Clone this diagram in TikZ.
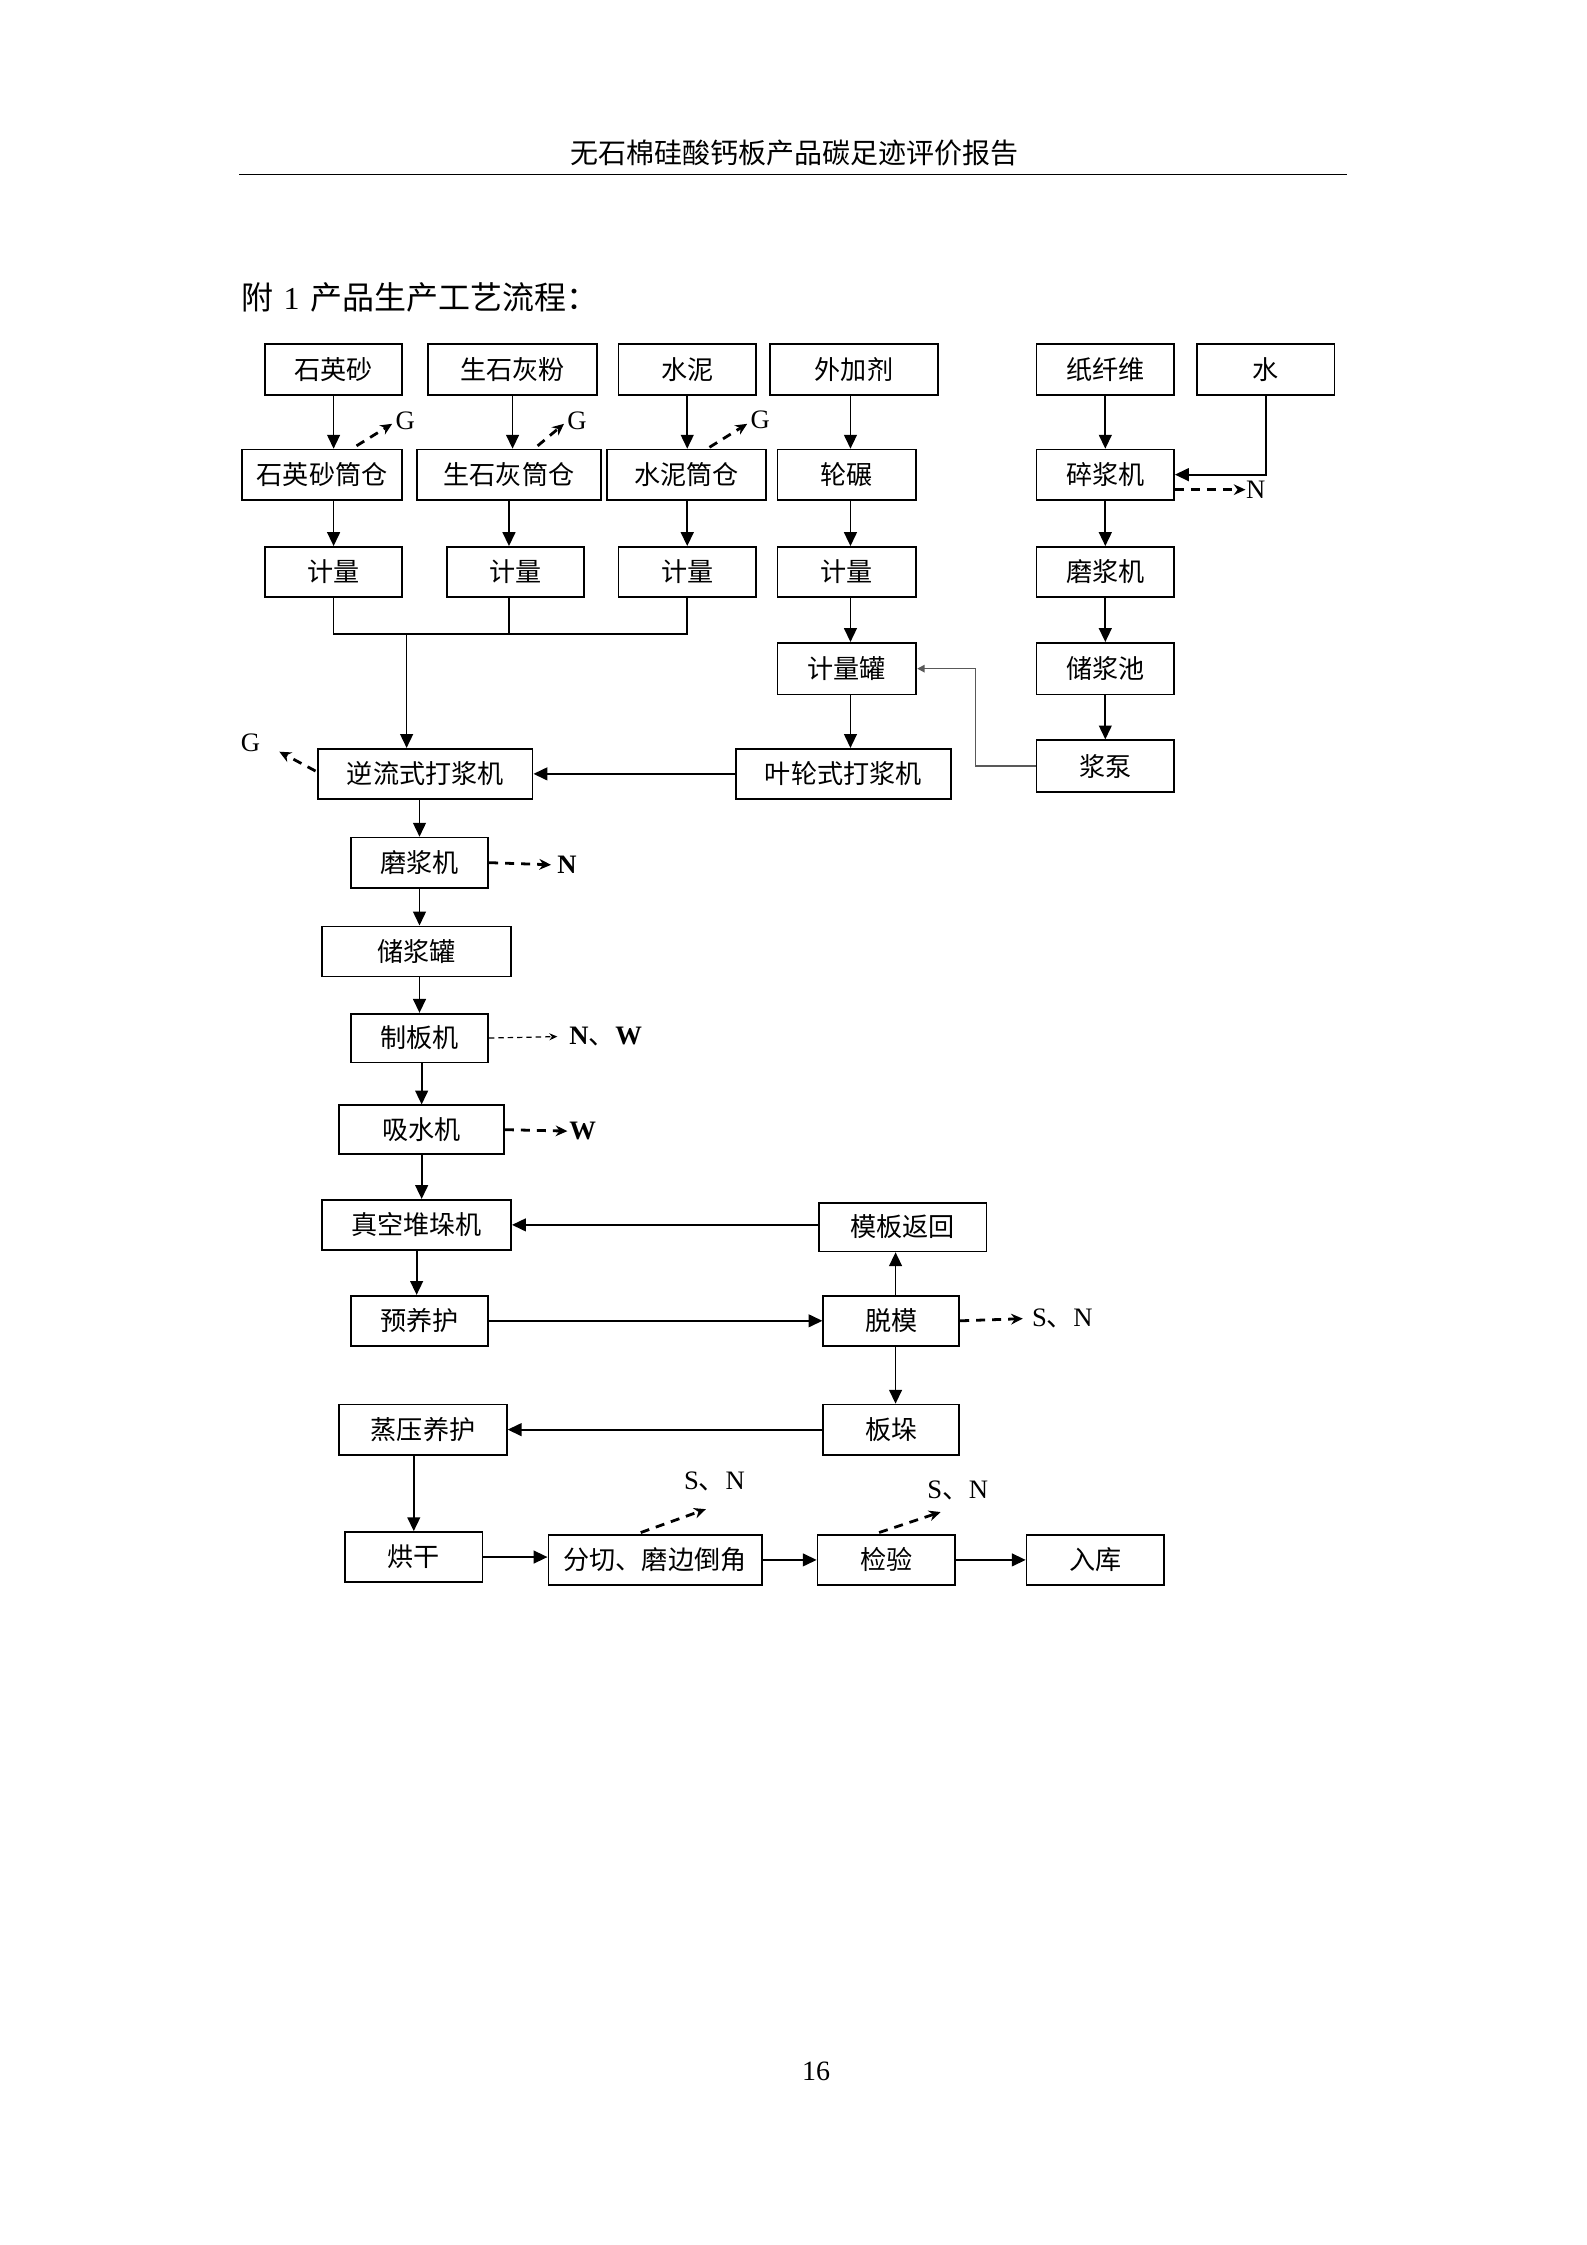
\documentclass[tikz,border=0pt]{standalone}
\usepackage{fontspec}
\setmainfont{Liberation Serif}
\newfontfamily\cjk{Noto Sans CJK SC}
\usetikzlibrary{arrows.meta,calc}
\newcommand\mkbox[6]{\node[box, minimum width={(#4-#2)*0.53725pt}, minimum height={(#5-#3)*0.53725pt}] (#1) at ({(#2+#4)/2},{(#3+#5)/2}) {#6};}
\begin{document}
\begin{tikzpicture}[x=0.53725pt, y=-0.53725pt,
  box/.style={draw, line width=0.65pt, inner sep=0pt, font=\cjk\fontsize{9.8}{11}\selectfont},
  arr/.style={line width=0.65pt, -{Triangle[length=5.2pt,width=4.8pt]}},
  conn/.style={line width=0.65pt},
  thinarr/.style={line width=0.6pt, draw=black!65, -{Triangle[length=2.8pt,width=2.8pt]}},
  dsh/.style={line width=1.05pt, dash pattern=on 3.4pt off 2.6pt, -{Stealth[length=4.4pt,width=4pt]}},
  dthin/.style={line width=0.45pt, dash pattern=on 2pt off 1.5pt, -{Stealth[length=3pt,width=2.6pt]}},
  lbl/.style={inner sep=0pt, font=\fontsize{10}{12}\selectfont},
  lblb/.style={inner sep=0pt, font=\fontsize{10}{12}\selectfont\bfseries},
]
\useasboundingbox (0,0) rectangle (1108,1568);

% header
\node[inner sep=0pt, font=\cjk\fontsize{10.5}{12}\selectfont] (hdr) at (555,107) {无石棉硅酸钙板产品碳足迹评价报告};
\coordinate (ruleL) at (167,122);
\coordinate (ruleR) at (941,122);
\draw[line width=0.5pt] (ruleL) -- (ruleR);
\node[anchor=west, inner sep=0pt, font=\cjk\fontsize{12}{14}\selectfont] (ttl) at (168,208) {附\hspace{4pt}{\rmfamily 1}\hspace{4pt}产品生产工艺流程：};
\node[inner sep=0pt, font=\fontsize{10.5}{12}\selectfont] (pg) at (570,1447) {16};

% boxes
\mkbox{sy}{185}{240}{281}{276}{石英砂}
\mkbox{shf}{299}{240}{417}{276}{生石灰粉}
\mkbox{sn}{432}{240}{528}{276}{水泥}
\mkbox{wjj}{538}{240}{655}{276}{外加剂}
\mkbox{zxw}{724}{240}{820}{276}{纸纤维}
\mkbox{water}{836}{240}{932}{276}{水}
\mkbox{syc}{169}{314}{281}{349}{石英砂筒仓}
\mkbox{shc}{291}{314}{420}{349}{生石灰筒仓}
\mkbox{snc}{424}{314}{535}{349}{水泥筒仓}
\mkbox{lunnian}{543}{314}{640}{349}{轮碾}
\mkbox{sjj}{724}{314}{820}{349}{碎浆机}
\mkbox{jla}{185}{382}{281}{417}{计量}
\mkbox{jlb}{312}{382}{408}{417}{计量}
\mkbox{jlc}{432}{382}{528}{417}{计量}
\mkbox{jld}{543}{382}{640}{417}{计量}
\mkbox{mjr}{724}{382}{820}{417}{磨浆机}
\mkbox{jlg}{543}{449}{640}{485}{计量罐}
\mkbox{cjc}{724}{449}{820}{485}{储浆池}
\mkbox{nl}{222}{523}{372}{558}{逆流式打浆机}
\mkbox{yl}{514}{523}{664}{558}{叶轮式打浆机}
\mkbox{jb}{724}{517}{820}{553}{浆泵}
\mkbox{mjl}{245}{585}{341}{620}{磨浆机}
\mkbox{cjg}{225}{647}{357}{682}{储浆罐}
\mkbox{zbj}{245}{708}{341}{742}{制板机}
\mkbox{xsj}{237}{772}{352}{806}{吸水机}
\mkbox{zk}{225}{838}{357}{873}{真空堆垛机}
\mkbox{mb}{572}{840}{689}{874}{模板返回}
\mkbox{yyh}{245}{905}{341}{940}{预养护}
\mkbox{tm}{575}{905}{670}{940}{脱模}
\mkbox{zy}{237}{981}{354}{1016}{蒸压养护}
\mkbox{bd}{575}{981}{670}{1016}{板垛}
\mkbox{hg}{241}{1070}{337}{1105}{烘干}
\mkbox{fq}{383}{1072}{532}{1107}{分切、磨边倒角}
\mkbox{jy}{571}{1072}{667}{1107}{检验}
\mkbox{rk}{717}{1072}{813}{1107}{入库}

% labels
\node[lbl] (g1) at (283,294) {G};
\node[lbl] (g2) at (403,294) {G};
\node[lbl] (g3) at (531,293) {G};
\node[lbl] (g4) at (175,519) {G};
\node[lbl] (n1) at (877,342) {N};
\node[lblb] (n2) at (396,604) {N};
\node[lblb] (nw) at (423,724) {N{\cjk\mdseries 、}W};
\node[lblb] (w1) at (407,790) {W};
\node[lbl] (sn1) at (742,921) {S{\cjk 、}N};
\node[lbl] (sn2) at (499,1035) {S{\cjk 、}N};
\node[lbl] (sn3) at (669,1041) {S{\cjk 、}N};

% left material chain
\draw[arr] (sy.south) -- (sy.south |- syc.north);
\draw[arr] (shf.south) -- (shf.south |- shc.north);
\draw[arr] (sn.south) -- (sn.south |- snc.north);
\coordinate (c4) at (594,0);
\draw[arr] (wjj.south -| c4) -- (lunnian.north -| c4);
\draw[arr] (zxw.south) -- (sjj.north);
\draw[arr] (jla.north |- syc.south) -- (jla.north);
\draw[arr] (shc.south) -- (shc.south |- jlb.north);
\draw[arr] (jlc.north |- snc.south) -- (jlc.north);
\draw[arr] (lunnian.south -| c4) -- (jld.north -| c4);
\draw[arr] (sjj.south) -- (mjr.north);
\coordinate (m) at (284,443);
\draw[conn] (jla.south) -- (jla.south |- m) -- (jlc.south |- m) -- (jlc.south);
\draw[conn] (shc.south |- jlb.south) -- (shc.south |- m);
\draw[arr] (m) -- (m |- nl.north);
\draw[arr] (jld.south -| c4) -- (jlg.north -| c4);
\draw[arr] (jlg.south -| c4) -- (yl.north -| c4);
\draw[arr] (mjr.south) -- (cjc.north);
\draw[arr] (cjc.south) -- (jb.north);
\draw[arr] (water.south) |- (sjj.east);
\draw[thinarr] (jb.west) -- ++(-42,0) |- (jlg.east);
\draw[arr] (yl.west) -- (nl.east);

% G emissions
\draw[dsh] ($(syc.north)+(24,-2)$) -- ($(g1.west)+(-2,2)$);
\draw[dsh] ($(shc.north)+(20,-2)$) -- ($(g2.west)+(-2,2)$);
\draw[dsh] ($(snc.north)+(16,-1)$) -- ($(g3.west)+(-2,3)$);
\draw[dsh] ($(nl.west)+(-1,-2)$) -- ($(g4.east)+(13,6)$);
\draw[dsh] (sjj.east |- n1) -- (n1.west);

% main line
\draw[arr] (mjl.north |- nl.south) -- (mjl.north);
\draw[dsh] (mjl.east) -- ($(n2.west)+(-4,0)$);
\draw[arr] (mjl.south) -- (mjl.south |- cjg.north);
\draw[arr] (zbj.north |- cjg.south) -- (zbj.north);
\draw[dthin] (zbj.east) -- ($(nw.west)+(-8,0)$);
\draw[arr] (xsj.north |- zbj.south) -- (xsj.north);
\draw[dsh] (xsj.east) -- ($(w1.west)+(-1,0)$);
\draw[arr] (xsj.south) -- (xsj.south |- zk.north);
\draw[arr] (zk.east -| mb.west) -- (zk.east);
\draw[arr] (zk.south) -- (zk.south |- yyh.north);
\draw[arr] (yyh.east) -- (tm.west);
\draw[arr] ($(tm.north)+(3,0)$) -- ($(tm.north |- mb.south)+(3,0)$);
\draw[dsh] (tm.east) -- ($(sn1.west)+(-6,0)$);
\draw[arr] ($(tm.south)+(3,0)$) -- ($(bd.north)+(3,0)$);
\draw[arr] (bd.west) -- (zy.east);
\draw[arr] (hg.north |- zy.south) -- (hg.north);
\draw[arr] (hg.east) -- (hg.east -| fq.west);
\draw[arr] (fq.east) -- (jy.west);
\draw[arr] (jy.east) -- (rk.west);
\draw[dsh] ($(fq.north)+(-10,-1)$) -- ($(sn2.south)+(-6,12)$);
\draw[dsh] ($(jy.north)+(-5,-1)$) -- ($(sn3.south)+(-12,8)$);
\end{tikzpicture}
\end{document}
